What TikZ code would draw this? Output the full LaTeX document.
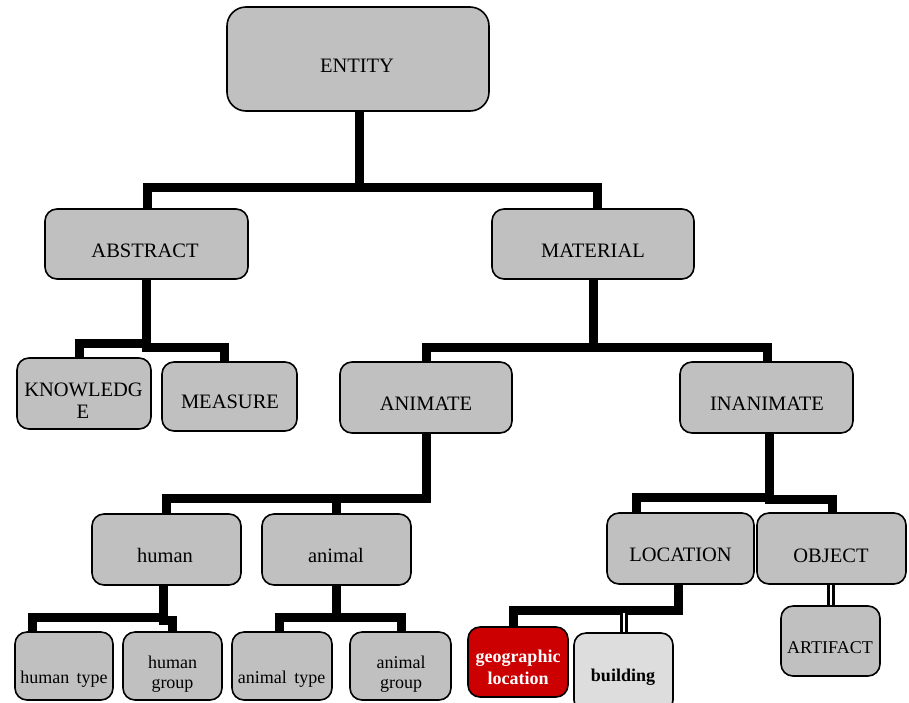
\documentclass[tikz,border=0pt]{standalone}
\usepackage{fontspec}
\setmainfont{Liberation Serif}
\definecolor{boxgrey}{HTML}{C0C0C0}
\definecolor{boxred}{HTML}{CC0000}
\definecolor{boxlight}{HTML}{DDDDDD}
\pgfdeclarelayer{bg}
\pgfsetlayers{bg,main}
\begin{document}
\begin{tikzpicture}[x=1pt,y=-1pt,
  box/.style={draw=black, line width=1.6pt, fill=boxgrey, rounded corners=12pt, inner sep=0pt, outer sep=0pt},
  conn/.style={draw=black, line width=9pt, line join=miter, line cap=butt},
  dbl/.style={draw=black, line width=3.4pt, double=white, double distance=1.2pt, line cap=butt},
  big/.style={font=\fontsize{20.5}{22}\selectfont, anchor=base, inner sep=0pt},
  small/.style={font=\fontsize{18}{20}\selectfont, anchor=base, inner sep=0pt},
  smallbold/.style={font=\fontsize{18}{20}\selectfont\bfseries, anchor=base, inner sep=0pt}]
\useasboundingbox (0,0) rectangle (909,702);

% boxes
\node[box, rounded corners=19pt, minimum width=262pt, minimum height=104pt] (entity) at (358,59) {};
\node[box, minimum width=203pt, minimum height=70pt] (abstract) at (146.5,244) {};
\node[box, minimum width=202pt, minimum height=70pt] (material) at (593,244) {};
\node[box, minimum width=134pt, minimum height=71pt] (knowledge) at (84,393.5) {};
\node[box, minimum width=135pt, minimum height=69pt] (measure) at (229.5,396.5) {};
\node[box, minimum width=172pt, minimum height=71pt] (animate) at (426,397.5) {};
\node[box, minimum width=173pt, minimum height=71pt] (inanimate) at (766.5,397.5) {};
\node[box, minimum width=149pt, minimum height=71pt] (human) at (166.5,549.5) {};
\node[box, minimum width=149pt, minimum height=71pt] (animal) at (336.5,549.5) {};
\node[box, minimum width=147pt, minimum height=71pt] (location) at (680.5,548.5) {};
\node[box, minimum width=149pt, minimum height=71pt] (object) at (831.5,548.5) {};
\node[box, minimum width=98pt, minimum height=68pt] (humantype) at (64,666) {};
\node[box, minimum width=99pt, minimum height=68pt] (humangroup) at (172.5,666) {};
\node[box, minimum width=100pt, minimum height=68pt] (animaltype) at (282,666) {};
\node[box, minimum width=101pt, minimum height=68pt] (animalgroup) at (400.5,666) {};
\node[box, fill=boxred, minimum width=100pt, minimum height=70pt] (geo) at (518,662) {};
\node[box, fill=boxlight, minimum width=99pt, minimum height=79pt] (building) at (623.5,672.5) {};
\node[box, minimum width=99pt, minimum height=70pt] (artifact) at (830.5,641) {};

% connectors
\begin{pgfonlayer}{bg}
\fill[white] (0,0) rectangle (909,702);
\draw[conn] (entity.south -| 359,0) -- (359,187);
\draw[conn] (abstract.north -| 147,0) |- (597,187) -- (material.north -| 597,0);
\draw[conn] (abstract.south -| 146,0) |- (79,343) -- (knowledge.north -| 79,0);
\draw[conn] (abstract.south -| 146,0) |- (224,347) -- (measure.north -| 224,0);
\draw[conn] (material.south) |- (426,347) -- (animate.north -| 426,0);
\draw[conn] (material.south) |- (767,347) -- (inanimate.north -| 767,0);
\draw[conn] (animate.south) |- (166,498) -- (human.north -| 166,0);
\draw[conn] (animal.north -| 336,0) -- (336,498);
\draw[conn] (inanimate.south -| 769,0) |- (636,497) -- (location.north -| 636,0);
\draw[conn] (inanimate.south -| 769,0) |- (832,499) -- (object.north -| 832,0);
\draw[conn] (human.south -| 163,0) |- (32,617) -- (humantype.north -| 32,0);
\draw[conn] (human.south -| 163,0) |- (172,620) -- (humangroup.north -| 172,0);
\draw[conn] (animal.south -| 336,0) |- (279,617) -- (animaltype.north -| 279,0);
\draw[conn] (animal.south -| 336,0) |- (401,617) -- (animalgroup.north -| 401,0);
\draw[conn] (location.south -| 678,0) |- (513,610) -- (geo.north -| 513,0);
\coordinate (bjoin) at (624,613);
\draw[dbl] (bjoin) -- (building.north -| 624,0);
\draw[dbl] (object.south -| 831,0) -- (artifact.north -| 831,0);
\end{pgfonlayer}

% texts
\node[big] (tentity) at (357,72) {ENTITY};
\node[big] (tabstract) at (145,257) {ABSTRACT};
\node[big] (tmaterial) at (593,257) {MATERIAL};
\node[big] (tknow1) at (83.5,396) {KNOWLEDG};
\node[big] (tknow2) at (83,418) {E};
\node[big] (tmeasure) at (230,408) {MEASURE};
\node[big] (tanimate) at (426,410) {ANIMATE};
\node[big] (tinanimate) at (767,410) {INANIMATE};
\node[big] (thuman) at (165,562) {human};
\node[big] (tanimal) at (336,562) {animal};
\node[big] (tlocation) at (680.5,561) {LOCATION};
\node[big] (tobject) at (831,562) {OBJECT};
\node[small] (thumantype) at (64,683) {human\, type};
\node[small] (thg1) at (172.5,668) {human};
\node[small] (thg2) at (172.5,688) {group};
\node[small] (tanimaltype) at (281.5,683) {animal\, type};
\node[small] (tag1) at (401,668) {animal};
\node[small] (tag2) at (401,688) {group};
\node[smallbold, text=white] (tgeo1) at (518,662) {geographic};
\node[smallbold, text=white] (tgeo2) at (518,684) {location};
\node[smallbold] (tbuilding) at (623,681) {building};
\node[small] (tartifact) at (830,653) {ARTIFACT};
\end{tikzpicture}
\end{document}
